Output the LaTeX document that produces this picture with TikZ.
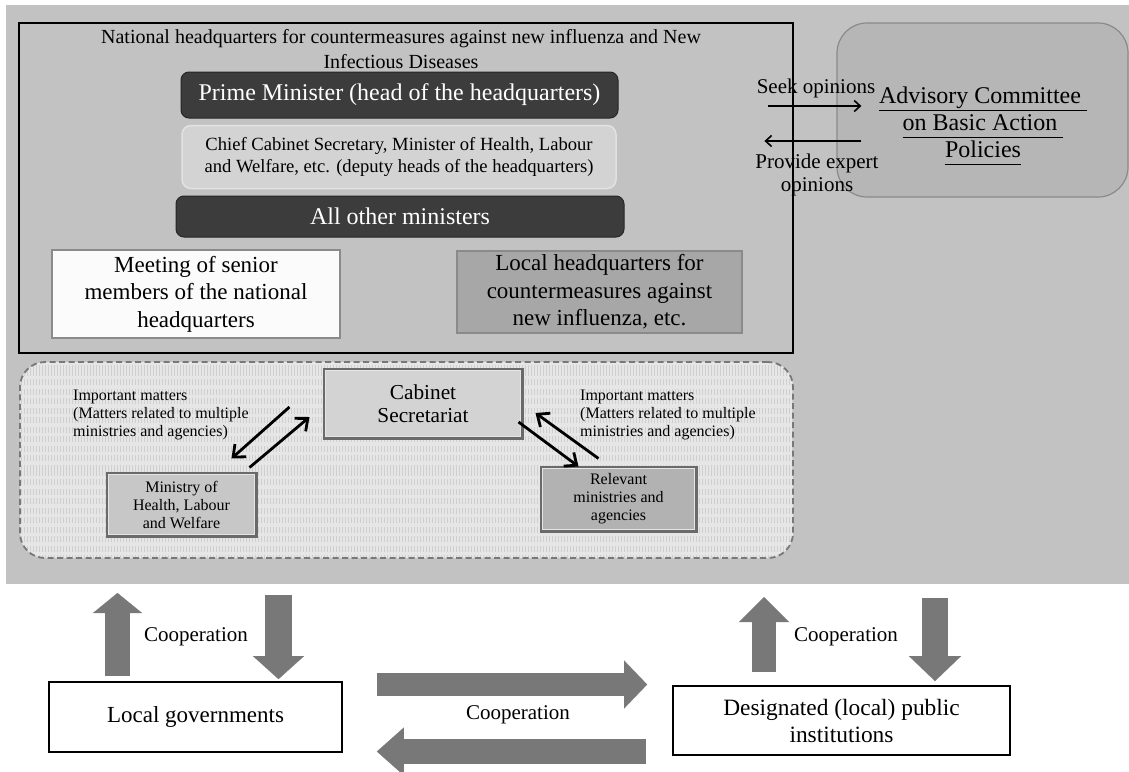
\documentclass[tikz,border=0pt]{standalone}
\usepackage{fontspec}
\setmainfont{Liberation Serif}
\usetikzlibrary{arrows.meta,patterns}
\newcommand\fsz[2]{\fontsize{#1}{#2}\selectfont}
\definecolor{bggray}{HTML}{C2C2C2}
\definecolor{darkbar}{HTML}{3C3C3C}
\definecolor{darkedge}{HTML}{262626}
\definecolor{chieffill}{HTML}{D3D3D3}
\definecolor{chiefedge}{HTML}{E2E2E2}
\definecolor{midedge}{HTML}{8A8A8A}
\definecolor{lhfill}{HTML}{A7A7A7}
\definecolor{adfill}{HTML}{B6B6B6}
\definecolor{bevedge}{HTML}{6A6A6A}
\definecolor{bevin}{HTML}{E4E4E4}
\definecolor{stripebase}{HTML}{E6E6E6}
\definecolor{stripe}{HTML}{CFCFCF}
\definecolor{fatgray}{HTML}{787878}
\begin{document}
\begin{tikzpicture}[x=1pt,y=-1pt,
  box/.style={inner sep=0pt,align=center},
  darkbox/.style={box,fill=darkbar,draw=darkedge,line width=1pt,rounded corners=8pt,text=white},
  bevel/.style={box,draw=bevedge,line width=3pt},
  bevelin/.style={draw=bevin,line width=1pt},
  plainbox/.style={box,draw=black,line width=1.8pt,fill=white},
  thinarrow/.style={draw=black,line width=2.8pt,-{Straight Barb[length=10pt,width=17pt]}},
  optarrow/.style={draw=black,line width=1.6pt,-{Straight Barb[length=6pt,width=11pt]}},
  fatline/.style={draw=fatgray,line cap=butt}
]
\useasboundingbox (0,0) rectangle (1129,771);
\fill[white] (0,0) rectangle (1129,771);

% gray region
\node[box,fill=bggray,minimum width=1123pt,minimum height=579pt] (region) at (567.5,294.5) {};

% national headquarters frame
\node[box,draw=black,line width=2.5pt,minimum width=774pt,minimum height=330pt] (nhq) at (406,188) {};
\node[box,font=\fsz{20}{25}] (title) at (401,49.5) {National headquarters for countermeasures against new influenza and New\\Infectious Diseases};

\node[darkbox,minimum width=437pt,minimum height=46pt,font=\fsz{24}{27}] (pm) at (399.5,95) {Prime Minister (head of the headquarters)};
\node[box,fill=chieffill,draw=chiefedge,line width=1.5pt,rounded corners=9pt,minimum width=434pt,minimum height=63pt,font=\fsz{18.6}{22}] (cc) at (399,157) {Chief Cabinet Secretary, Minister of Health, Labour\\and Welfare, etc. (deputy heads of the headquarters)};
\node[darkbox,minimum width=448pt,minimum height=41pt,font=\fsz{24}{27}] (ao) at (400,216.5) {All other ministers};

\node[box,fill=white!97!gray,draw=midedge,line width=2pt,minimum width=288pt,minimum height=88pt,font=\fsz{23}{27.5}] (mt) at (196,294) {Meeting of senior\\members of the national\\headquarters};
\node[box,fill=lhfill,draw=midedge,line width=2pt,minimum width=285pt,minimum height=82pt,font=\fsz{23}{27.5}] (lh) at (599.5,292) {Local headquarters for\\countermeasures against\\new influenza, etc.};

% advisory committee
\node[box,fill=adfill,draw=midedge,line width=1.2pt,rounded corners=30pt,minimum width=291pt,minimum height=174pt] (ad) at (982.5,110) {};
\node[box,font=\fsz{24}{27}] (adt) at (983,126) {\underline{\vphantom{y}Advisory Committee\ }\\\underline{\vphantom{y}on Basic Action\ }\\\underline{\vphantom{y}Policies}};
\draw[optarrow] ([shift={(-68,-4)}]ad.west) -- ([shift={(25,-4)}]ad.west);
\draw[optarrow] ([shift={(25,31)}]ad.west) -- ([shift={(-72,31)}]ad.west);
\node[box,font=\fsz{21}{23}] (seek) at (816,88) {Seek opinions};
\node[box,font=\fsz{21}{23}] (prov) at (817,175) {Provide expert\\opinions};

% dashed coordination region
\node[box,draw=fatgray,dash pattern=on 6pt off 3.5pt,line width=1.8pt,rounded corners=25pt,
      preaction={fill=stripebase},pattern=vertical lines,pattern color=stripe,
      minimum width=773pt,minimum height=196pt] (dr) at (406.5,460) {};

\node[bevel,fill=chieffill,minimum width=198pt,minimum height=69pt,font=\fsz{21.3}{23}] (cs) at (423,403.5) {Cabinet\\Secretariat};
\draw[bevelin] ([shift={(3,3)}]cs.north west) rectangle ([shift={(-3,-3)}]cs.south east);
\node[bevel,fill=white!78!black,minimum width=149pt,minimum height=63pt,font=\fsz{16}{18}] (mh) at (181.5,504.5) {Ministry of\\Health, Labour\\and Welfare};
\draw[bevelin] ([shift={(3,3)}]mh.north west) rectangle ([shift={(-3,-3)}]mh.south east);
\node[bevel,fill=white!70!black,minimum width=155pt,minimum height=64pt,font=\fsz{16}{18}] (rm) at (618.5,499) {Relevant\\ministries and\\agencies};
\draw[bevelin] ([shift={(3,3)}]rm.north west) rectangle ([shift={(-3,-3)}]rm.south east);

\node[box,anchor=west,align=left,font=\fsz{16}{18}] (imL) at (73,415) {Important matters\\(Matters related to multiple\\ministries and agencies)};
\node[box,anchor=west,align=left,font=\fsz{16}{18}] (imR) at (580,415) {Important matters\\(Matters related to multiple\\ministries and agencies)};

\draw[thinarrow] ([shift={(-33,3.5)}]cs.west) -- ([shift={(-26,-13)}]mh.north east);
\draw[thinarrow] ([shift={(-8,-4)}]mh.north east) -- ([shift={(-13,13.5)}]cs.west);
\draw[thinarrow] ([shift={(-5,18.5)}]cs.east) -- ([shift={(39,1)}]rm.north west);
\draw[thinarrow] ([shift={(59,-7)}]rm.north west) -- ([shift={(12,9.5)}]cs.east);

% lower part
\node[plainbox,minimum width=293pt,minimum height=70pt,font=\fsz{23}{27}] (lg) at (195.5,717) {Local governments};
\node[plainbox,minimum width=337pt,minimum height=69pt,font=\fsz{23.4}{27}] (di) at (841.5,720.5) {Designated (local) public\\institutions};

\coordinate (ul) at (117.5,593);
\coordinate (dl) at (278.5,595);
\coordinate (ur) at (764,597);
\coordinate (dd) at (935,598);

\draw[fatline,line width=25pt,-{Triangle[length=20pt,width=49pt,line width=0.1pt]}] ([shift={(-78,-5)}]lg.north) -- (ul);
\draw[fatline,line width=27pt,-{Triangle[length=23pt,width=51pt,line width=0.1pt]}] (dl) -- ([shift={(83,-2)}]lg.north);
\draw[fatline,line width=23pt,-{Triangle[length=23pt,width=48pt,line width=0.1pt]}] ([shift={(34,-32.5)}]lg.east) -- ([shift={(-25,-36)}]di.west);
\draw[fatline,line width=25pt,-{Triangle[length=27pt,width=48pt,line width=0.1pt]}] ([shift={(-26,31)}]di.west) -- ([shift={(34,34.5)}]lg.east);
\draw[fatline,line width=24pt,-{Triangle[length=25pt,width=50pt,line width=0.1pt]}] ([shift={(-77.5,-13)}]di.north) -- (ur);
\draw[fatline,line width=26pt,-{Triangle[length=25pt,width=52pt,line width=0.1pt]}] (dd) -- ([shift={(93.5,-4)}]di.north);

\node[box,font=\fsz{21}{23}] (co1) at (196,637) {Cooperation};
\node[box,font=\fsz{21}{23}] (co2) at (518,715) {Cooperation};
\node[box,font=\fsz{21}{23}] (co3) at (846,637) {Cooperation};
\end{tikzpicture}
\end{document}
